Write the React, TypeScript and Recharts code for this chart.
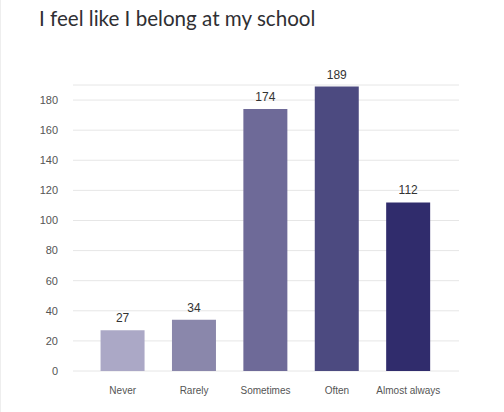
import { BarChart, Bar, XAxis, YAxis, CartesianGrid, LabelList, Cell } from 'recharts'

const categorias = ['Never', 'Rarely', 'Sometimes', 'Often', 'Almost always']
const valores = [27, 34, 174, 189, 112]
const cores = ['#aba8c6', '#8a87ab', '#6e6a98', '#4c4a80', '#302c6c']
const ticksY = [0, 20, 40, 60, 80, 100, 120, 140, 160, 180]

const dados = categorias.map((c, i) => ({ categoria: c, valor: valores[i] }))

export default function App() {
  return (
    <div
      style={{
        position: 'absolute',
        left: 0,
        top: 0,
        width: 504,
        height: 412,
        background: '#fff',
        borderLeft: '1px solid #eee',
        boxSizing: 'border-box',
      }}
    >
      <div
        style={{
          position: 'absolute',
          left: 38,
          top: 6,
          fontFamily: 'Lato, "Open Sans", sans-serif',
          fontSize: 20.6,
          color: '#2f2f33',
          whiteSpace: 'nowrap',
        }}
      >
        I feel like I belong at my school
      </div>
      <BarChart
        width={504}
        height={412}
        data={dados}
        margin={{ top: 85, right: 46, left: 32, bottom: 11 }}
        barCategoryGap="19%"
      >
        <CartesianGrid vertical={false} stroke="#e6e6e6" />
        <XAxis
          dataKey="categoria"
          axisLine={false}
          tickLine={false}
          interval={0}
          height={30}
          padding={{ left: 14, right: 15 }}
          tickMargin={10}
          tick={{ fill: '#555', fontSize: 10, fontFamily: '"Liberation Sans", Arial, sans-serif' }}
        />
        <YAxis
          domain={[0, 190]}
          ticks={ticksY}
          axisLine={false}
          tickLine={false}
          width={40}
          tickMargin={9}
          tick={{ fill: '#555', fontSize: 11, fontFamily: '"Liberation Sans", Arial, sans-serif' }}
        />
        <Bar dataKey="valor" isAnimationActive={false}>
          {dados.map((d, i) => (
            <Cell key={d.categoria} fill={cores[i]} />
          ))}
          <LabelList
            dataKey="valor"
            position="top"
            offset={8}
            fill="#333"
            fontSize={12}
            fontFamily='"Liberation Sans", Arial, sans-serif'
          />
        </Bar>
      </BarChart>
    </div>
  )
}
